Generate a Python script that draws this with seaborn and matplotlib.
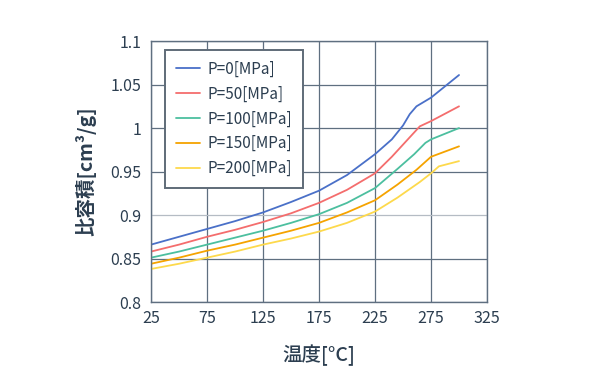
import pandas as pd
import seaborn as sns
import matplotlib.pyplot as plt
from matplotlib.ticker import FuncFormatter

# --- データ ---
temp_p0 = [25, 50, 75, 100, 125, 150, 175, 200, 225, 240, 250, 256, 262, 275, 300]
vol_p0 = [0.866, 0.875, 0.884, 0.893, 0.903, 0.915, 0.928, 0.946, 0.970, 0.987, 1.003, 1.016, 1.025, 1.035, 1.061]

temp_p50 = [25, 50, 75, 100, 125, 150, 175, 200, 225, 240, 255, 265, 275, 300]
vol_p50 = [0.858, 0.866, 0.875, 0.883, 0.892, 0.902, 0.914, 0.929, 0.948, 0.967, 0.988, 1.002, 1.008, 1.025]

temp_p100 = [25, 50, 75, 100, 125, 150, 175, 200, 225, 245, 260, 270, 275, 300]
vol_p100 = [0.851, 0.858, 0.866, 0.874, 0.882, 0.891, 0.901, 0.914, 0.931, 0.953, 0.970, 0.983, 0.987, 1.000]

temp_p150 = [25, 50, 75, 100, 125, 150, 175, 200, 225, 245, 262, 275, 300]
vol_p150 = [0.844, 0.851, 0.859, 0.866, 0.874, 0.882, 0.891, 0.903, 0.917, 0.935, 0.952, 0.967, 0.979]

temp_p200 = [25, 50, 75, 100, 125, 150, 175, 200, 225, 245, 265, 275, 282, 300]
vol_p200 = [0.838, 0.844, 0.851, 0.858, 0.866, 0.873, 0.881, 0.891, 0.904, 0.920, 0.938, 0.948, 0.956, 0.962]

labels = ['P=0[MPa]', 'P=50[MPa]', 'P=100[MPa]', 'P=150[MPa]', 'P=200[MPa]']
colors = ['#4a70c8', '#f46d6d', '#4cbf9f', '#f5a300', '#fdd94c']

x_ticks = [25, 75, 125, 175, 225, 275, 325]
y_ticks = [0.8, 0.85, 0.9, 0.95, 1.0, 1.05, 1.1]

series = [(temp_p0, vol_p0), (temp_p50, vol_p50), (temp_p100, vol_p100),
          (temp_p150, vol_p150), (temp_p200, vol_p200)]
frames = []
for lab, (t, v) in zip(labels, series):
    frames.append(pd.DataFrame({'温度': t, '比容積': v, '圧力': lab}))
df = pd.concat(frames, ignore_index=True)

# --- スタイル ---
sns.set_style('white')
plt.rcParams['font.family'] = ['Noto Sans CJK JP', 'DejaVu Sans']
text_color = '#2c3e50'
grid_color = '#5f6f80'

fig = plt.figure(figsize=(6, 3.9), dpi=100)
ax = fig.add_axes([0.2517, 0.2256, 0.56, 0.669])

sns.lineplot(data=df, x='温度', y='比容積', hue='圧力',
             palette=dict(zip(labels, colors)), estimator=None,
             linewidth=1.3, ax=ax)

ax.set_xlim(25, 325)
ax.set_ylim(0.8, 1.1)
ax.set_xticks(x_ticks)
ax.set_yticks(y_ticks)
ax.yaxis.set_major_formatter(FuncFormatter(lambda v, p: f'{v:g}'))
ax.tick_params(axis='both', length=0, labelsize=11.5, labelcolor=text_color)
ax.tick_params(axis='y', pad=7)
ax.tick_params(axis='x', pad=6)

ax.grid(True, color=grid_color, linewidth=0.9)
ax.set_axisbelow(True)
# 0.9 の目盛線だけ薄い
ax.get_ygridlines()[2].set_color('#b5bcc4')
for sp in ax.spines.values():
    sp.set_edgecolor(grid_color)
    sp.set_linewidth(1.0)

ax.set_xlabel('温度[°C]', fontsize=14, color=text_color, labelpad=12,
              fontweight='medium')
ax.set_ylabel('比容積[cm³/g]', fontsize=14, color=text_color, labelpad=10,
              fontweight='bold')

handles, _ = ax.get_legend_handles_labels()
ax.get_legend().remove()
leg = ax.legend(handles, labels, loc='upper left', bbox_to_anchor=(0.042, 0.967),
                borderaxespad=0, fontsize=11, frameon=True, fancybox=False,
                framealpha=1, edgecolor='#5f6b78', handlelength=1.6,
                labelspacing=0.52, borderpad=0.7, handletextpad=0.5,
                labelcolor=text_color)
leg.get_frame().set_linewidth(1.4)

fig.savefig('out.png', dpi=100)
